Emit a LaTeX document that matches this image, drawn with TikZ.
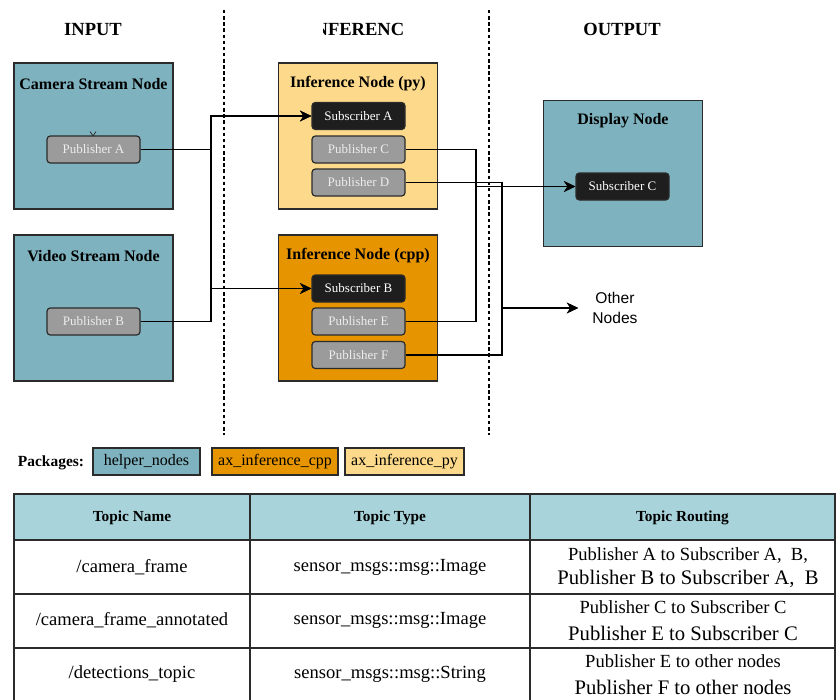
\documentclass[tikz,border=0pt]{standalone}
\usepackage{fontspec}
\setmainfont{Liberation Serif}
\newfontfamily\sansfam{Liberation Sans}
\usetikzlibrary{arrows.meta}

\definecolor{tealfill}{HTML}{7EB2BE}
\definecolor{pyfill}{HTML}{FDDA8B}
\definecolor{cppfill}{HTML}{E69500}
\definecolor{pubfill}{HTML}{9B9B9B}
\definecolor{pubtext}{HTML}{EDEDED}
\definecolor{subfill}{HTML}{1E1E1E}
\definecolor{headfill}{HTML}{A8D3DA}
\definecolor{edgegray}{HTML}{2B2B2B}

\begin{document}
\begin{tikzpicture}[x=0.75pt,y=-0.75pt,
  coltitle/.style={font=\bfseries\fontsize{13.9}{16}\selectfont, inner sep=0pt},
  bigbox/.style={draw=edgegray, line width=1pt, minimum width=119.25pt, minimum height=109.5pt, inner sep=0pt},
  boxtitle/.style={font=\bfseries\fontsize{12}{14}\selectfont, inner sep=0pt},
  smallbox/.style={draw=edgegray, line width=0.9pt, rounded corners=2.5pt, minimum width=69.75pt, minimum height=20.25pt, inner sep=0pt, font=\fontsize{9.75}{11}\selectfont},
  pub/.style={smallbox, fill=pubfill, text=pubtext},
  sub/.style={smallbox, fill=subfill, text=white},
  wire/.style={draw=black, line width=1.1pt},
  arr/.style={wire, -{Stealth[length=8.5pt,width=8pt,inset=2.6pt]}},
  divider/.style={draw=black, line width=0.9pt, dash pattern=on 2.6pt off 2pt},
  pkg/.style={draw=edgegray, line width=0.9pt, minimum height=20.25pt, inner sep=0pt, font=\fontsize{12}{14}\selectfont},
  grid/.style={draw=edgegray, line width=1.1pt},
  headtxt/.style={font=\bfseries\fontsize{11.5}{13}\selectfont, inner sep=0pt},
  celltxt/.style={font=\fontsize{13.9}{16}\selectfont, inner sep=0pt},
  routesmall/.style={font=\fontsize{13.9}{16}\selectfont, inner sep=0pt},
  routebig/.style={font=\fontsize{15.5}{18}\selectfont, inner sep=0pt}
]
\useasboundingbox (0,0) rectangle (836,700);
\clip (0,0) rectangle (836,700);

% column headings
\node[coltitle] (tin) at (93,29.5) {INPUT};
\begin{scope}
  \clip (323,8) rectangle (403,48);
  \node[coltitle] (tinf) at (362,29.5) {INFERENCE};
\end{scope}
\node[coltitle] (tout) at (622,29.5) {OUTPUT};

% column dividers
\coordinate (d1t) at (224,10);
\coordinate (d1b) at (224,435);
\coordinate (d2t) at (489,10);
\coordinate (d2b) at (489,435);
\draw[divider] (d1t) -- (d1b);
\draw[divider] (d2t) -- (d2b);

% input nodes
\node[bigbox, fill=tealfill] (cam) at (93.5,136) {};
\node[boxtitle] (camT) at (93.5,84) {Camera Stream Node};
\node[pub] (pa) at (93.5,149.5) {Publisher A};
\draw[edgegray, line width=0.6pt] (90,131.5) -- (93,136) -- (96,131.5);

\node[bigbox, fill=tealfill] (vid) at (93.5,308) {};
\node[boxtitle] (vidT) at (93.5,256) {Video Stream Node};
\node[pub] (pb) at (93.5,321.5) {Publisher B};

% inference nodes
\node[bigbox, fill=pyfill] (py) at (358,136) {};
\node[boxtitle] (pyT) at (358,84) {Inference Node (py)};
\node[sub] (sa) at (358.5,116) {Subscriber A};
\node[pub] (pc) at (358.5,149.5) {Publisher C};
\node[pub] (pd) at (358.5,182.5) {Publisher D};

\node[bigbox, fill=cppfill] (cpp) at (358,308) {};
\node[boxtitle] (cppT) at (358,256) {Inference Node (cpp)};
\node[sub] (sb) at (358.5,288.5) {Subscriber B};
\node[pub] (pe) at (358.5,321.5) {Publisher E};
\node[pub] (pf) at (358.5,355) {Publisher F};

% output nodes
\node[bigbox, fill=tealfill] (disp) at (623,173.5) {};
\node[boxtitle] (dispT) at (623,121) {Display Node};
\node[sub] (sc) at (622.5,186.5) {Subscriber C};

\node[font=\sansfam\fontsize{11.7}{15}\selectfont, align=center, inner xsep=10.5pt, inner ysep=0pt] (other) at (615,308) {Other\\Nodes};

% routing buses
\coordinate (busA) at (211,0);
\coordinate (busC) at (476,0);
\coordinate (busD) at (502,0);

\draw[arr] (pa.east) -- (pa.east -| busA) |- (sa.west);
\draw[arr] (pa.east) -- (pa.east -| busA) |- (sb.west);
\draw[arr] (pb.east) -- (pb.east -| busA) |- (sa.west);
\draw[arr] (pb.east) -- (pb.east -| busA) |- (sb.west);

\draw[arr] (pc.east) -- (pc.east -| busC) |- (sc.west);
\draw[arr] (pe.east) -- (pe.east -| busC) |- (sc.west);
\draw[arr] (pd.east) -- (pd.east -| busD) |- (other.west);
\draw[arr] (pf.east) -- (pf.east -| busD) |- (other.west);

% package legend
\node[font=\bfseries\fontsize{11.6}{14}\selectfont, inner sep=0pt] (pkgT) at (51,462.5) {Packages:};
\node[pkg, fill=tealfill, minimum width=80.25pt] (pkgH) at (146.5,461.5) {helper\_nodes};
\node[pkg, fill=cppfill, minimum width=94.5pt] (pkgC) at (275,461.5) {ax\_inference\_cpp};
\node[pkg, fill=pyfill, minimum width=89.25pt] (pkgP) at (404.5,461.5) {ax\_inference\_py};

% topic table
\fill[headfill] (14,494) rectangle (835,540);
\draw[grid] (14,494) rectangle (835,702);
\draw[grid] (14,540) -- (835,540);
\draw[grid] (14,594) -- (835,594);
\draw[grid] (14,648) -- (835,648);
\draw[grid] (250,494) -- (250,702);
\draw[grid] (530,494) -- (530,702);

\node[headtxt] (h1) at (132,518) {Topic Name};
\node[headtxt] (h2) at (390,518) {Topic Type};
\node[headtxt] (h3) at (682.5,518) {Topic Routing};

\node[celltxt] (n1) at (132,567) {/camera\_frame};
\node[celltxt] (y1) at (390,567) {sensor\_msgs::msg::Image};
\node[routesmall] (r1a) at (688,555) {Publisher A to Subscriber A,\ \ B,};
\node[routebig] (r1b) at (688,579) {Publisher B to Subscriber A,\ \ B};

\node[celltxt] (n2) at (132,620) {/camera\_frame\_annotated};
\node[celltxt] (y2) at (390,620) {sensor\_msgs::msg::Image};
\node[routesmall] (r2a) at (683,607) {Publisher C to Subscriber C};
\node[routebig] (r2b) at (683,633) {Publisher E to Subscriber C};

\node[celltxt] (n3) at (132,674) {/detections\_topic};
\node[celltxt] (y3) at (390,674) {sensor\_msgs::msg::String};
\node[routesmall] (r3a) at (683,661) {Publisher E to other nodes};
\node[routebig] (r3b) at (683,687) {Publisher F to other nodes};
\end{tikzpicture}
\end{document}
